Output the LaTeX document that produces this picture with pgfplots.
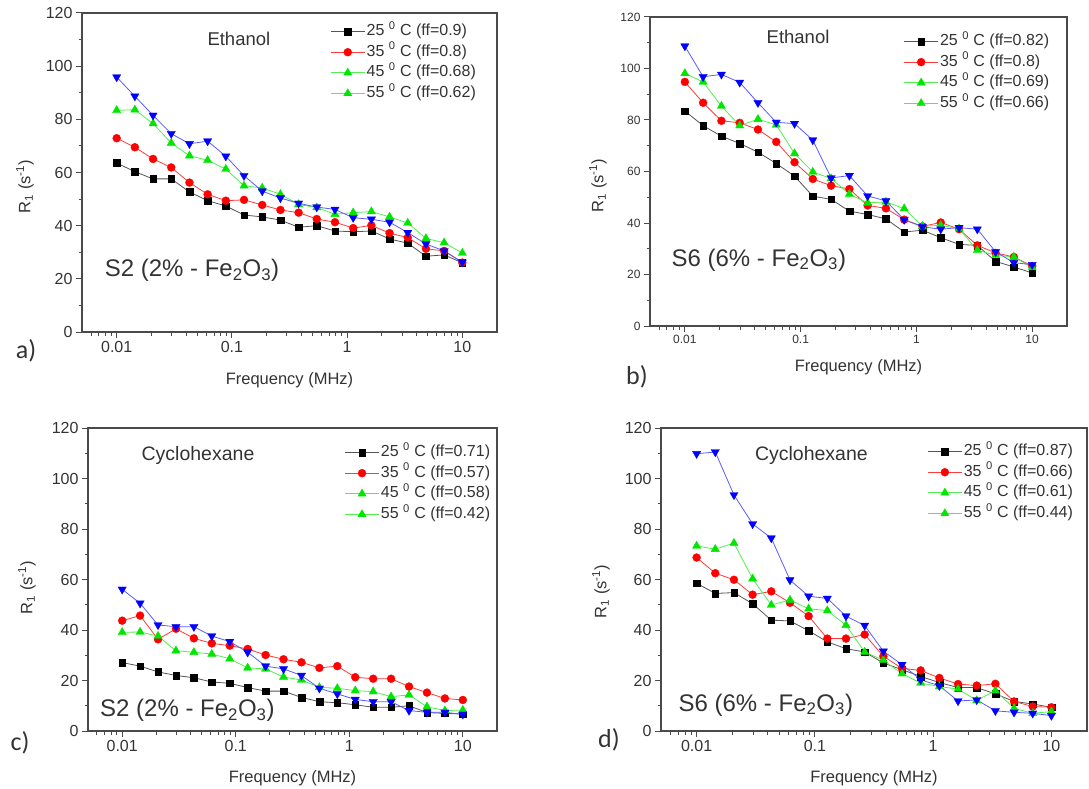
\documentclass[border=0pt]{standalone}
\usepackage{fontspec}
\setmainfont{Liberation Sans}
\newfontfamily\carlito{Carlito}
\usepackage{pgfplots}
\usepackage{pgfplotstable}
\pgfplotsset{compat=1.18}

\definecolor{axgray}{HTML}{4A4A4A}
\definecolor{txtgray}{HTML}{333333}
\definecolor{ln25}{HTML}{555555}
\definecolor{ln35}{HTML}{FF3A3A}
\definecolor{ln45}{HTML}{50F050}
\definecolor{ln55}{HTML}{5A5AFF}
\definecolor{mk35}{HTML}{FF0000}
\definecolor{mk45}{HTML}{00E600}
\definecolor{mk55}{HTML}{0000FF}

% frequency (MHz), R1 at 25, 35, 45, 55 C
\pgfplotstableread{
f t25 t35 t45 t55
0.01    63.6 72.9 83.4 95.9
0.01438 60.3 69.5 83.6 88.7
0.02069 57.6 65.1 78.4 81.5
0.02976 57.6 61.9 71.1 74.6
0.04281 52.7 56.2 66.3 70.8
0.06158 49.4 51.8 64.6 71.8
0.08859 47.4 49.4 61.3 66.1
0.1274  44.0 49.7 55.0 58.8
0.1833  43.3 47.8 54.2 53.0
0.2637  42.1 45.9 51.8 50.4
0.3793  39.4 44.9 48.0 48.4
0.5456  40.0 42.5 46.8 47.0
0.7848  38.0 41.3 44.3 46.1
1.129   37.7 39.1 44.9 43.0
1.624   38.0 40.1 45.3 42.4
2.336   35.0 37.2 43.3 41.3
3.360   33.4 35.5 41.0 37.4
4.833   28.5 31.3 35.2 33.1
6.952   29.0 30.5 33.6 30.5
10      26.0 26.1 29.7 26.3
}\tabA

\pgfplotstableread{
f t25 t35 t45 t55
0.01    83.5 94.8 98.1 108.7
0.01438 77.8 86.7 94.8 96.8
0.02069 73.7 79.7 85.4 97.7
0.02976 70.9 78.9 77.8 94.6
0.04281 67.5 76.3 80.3 86.7
0.06158 63.1 71.5 78.1 79.1
0.08859 58.2 63.6 67.0 78.6
0.1274  50.4 57.1 59.8 72.2
0.1833  49.2 54.5 57.3 57.5
0.2637  44.6 53.2 51.2 58.4
0.3793  43.3 46.8 47.8 50.5
0.5456  41.6 45.7 48.2 48.6
0.7848  36.5 41.3 45.6 41.3
1.129   37.2 38.7 38.7 38.5
1.624   34.3 40.2 39.1 37.6
2.336   31.7 37.6 37.8 38.2
3.360   31.3 31.3 29.4 37.6
4.833   25.1 28.4 27.5 28.8
6.952   22.9 26.8 26.8 24.6
10      20.6 23.3 22.7 23.8
}\tabB

\pgfplotstableread{
f t25 t35 t45 t55
0.01    27.1 43.7 39.1 56.1
0.01438 25.7 45.7 39.2 50.6
0.02069 23.4 36.3 37.6 42.0
0.02976 22.0 40.5 31.8 41.3
0.04281 21.1 36.7 31.2 41.3
0.06158 19.4 34.7 30.5 37.6
0.08859 18.9 33.8 28.6 35.4
0.1274  17.2 32.5 25.0 31.2
0.1833  15.8 30.1 24.6 25.7
0.2637  15.8 28.4 21.4 24.6
0.3793  13.3 27.2 20.2 22.0
0.5456  11.6 25.0 17.3 16.9
0.7848  11.2 25.7 16.9 14.7
1.129   10.4 21.3 16.0 12.5
1.624    9.4 20.7 15.6 11.6
2.336    9.4 20.7 13.6 11.6
3.360   10.0 17.6 14.3  8.1
4.833    7.3 15.2  9.6  7.4
6.952    7.0 12.9  8.1  7.4
10       6.7 12.3  8.3  6.6
}\tabC

\pgfplotstableread{
f t25 t35 t45 t55
0.01    58.5 68.7 73.3 109.8
0.01438 54.5 62.5 72.0 110.5
0.02069 54.8 59.9 74.4 93.5
0.02976 50.4 54.0 60.3 82.0
0.04281 43.9 55.3 49.9 76.4
0.06158 43.6 50.8 51.9 59.8
0.08859 39.7 45.5 48.4 53.4
0.1274  35.3 36.6 47.7 52.5
0.1833  32.6 36.6 41.9 45.5
0.2637  31.3 38.2 31.3 41.8
0.3793  26.9 29.6 28.0 31.6
0.5456  24.3 24.8 22.7 26.3
0.7848  21.6 24.0 19.0 20.3
1.129   19.2 21.0 17.6 17.9
1.624   17.2 18.6 16.6 11.9
2.336   17.2 18.0 12.1 12.3
3.360   14.7 18.7 16.0  8.0
4.833   11.7 11.7  9.0  7.4
6.952   10.7  9.7  7.0  7.0
10       9.4  9.4  7.7  6.1
}\tabD

\pgfplotsset{
  s25/.style={color=ln25, line width=0.8pt, mark=square*, mark size=3.3pt,
    mark options={solid, draw=black, fill=black, line width=0.3pt}},
  s35/.style={color=ln35, line width=0.8pt, mark=*, mark size=4pt,
    mark options={solid, draw=mk35, fill=mk35, line width=0.3pt}},
  s45/.style={color=ln45, line width=0.8pt, mark=triangle*, mark size=4.8pt,
    mark options={solid, draw=mk45, fill=mk45, line width=0.3pt}},
  s55/.style={color=ln55, line width=0.8pt, mark=triangle*, mark size=4.8pt,
    mark options={solid, draw=mk55, fill=mk55, line width=0.3pt, rotate=180}},
}

% settings shared by the four panels
\pgfplotsset{
  scale only axis,
  xmin=0.005, xmax=20, ymin=0, ymax=120,
  xtick={0.01,0.1,1,10}, xticklabels={0.01,0.1,1,10},
  minor xtick={0.006,0.007,0.008,0.009,0.02,0.03,0.04,0.05,0.06,0.07,0.08,0.09,
    0.2,0.3,0.4,0.5,0.6,0.7,0.8,0.9,2,3,4,5,6,7,8,9},
  ytick={0,20,...,120}, minor ytick={10,30,...,110},
  tick align=outside, tick pos=left,
  axis line style={draw=axgray, line width=1.1pt},
  major tick length=6pt, minor tick length=3.5pt,
  every tick/.style={axgray, line width=1pt},
  /pgf/number format/assume math mode=true,
  ticklabel style={text=txtgray, font=\fontsize{16}{16}\selectfont},
  xlabel={Frequency (MHz)},
  ylabel={R\textsubscript{1} (s\textsuperscript{-1})},
  label style={text=txtgray, font=\fontsize{16.5}{18}\selectfont},
  legend style={draw=none, fill=none, inner sep=0pt, row sep=1.6pt, column sep=0pt,
    anchor=north west,
    nodes={inner sep=1.5pt, text height=12pt, text depth=4pt, text=txtgray,
      font=\fontsize{16}{16}\selectfont}},
  legend cell align=left,
  legend image code/.code={
    \draw[mark repeat=2, mark phase=2, #1] plot coordinates {(0pt,0pt) (17pt,0pt) (34pt,0pt)};},
}

\tikzset{
  tagfont/.style={font=\fontsize{18.5}{20}\selectfont, text=txtgray},
  cycfont/.style={font=\fontsize{19.5}{21}\selectfont, text=txtgray},
  bigfont/.style={font=\fontsize{24}{26}\selectfont, text=txtgray},
  letter/.style={font=\carlito\fontsize{26}{26}\selectfont, text=txtgray},
}

\begin{document}
\begin{tikzpicture}[x=1pt, y=1pt]
\path[use as bounding box] (0,0) rectangle (1089,-789);

% ---------- a) ----------
\begin{semilogxaxis}[at={(82pt,-13pt)}, anchor=north west, width=415pt, height=319pt,
  xlabel style={at={([yshift=-48pt]rel axis cs:0.5,0)}, anchor=center},
  ylabel style={at={([xshift=-57pt, yshift=-14pt]rel axis cs:0,0.5)}, anchor=center},
  legend style={at={(rel axis cs:0.598,0.972)}}]
\addplot[s25, forget plot] table[x=f, y=t25] {\tabA};
\addplot[s35, forget plot] table[x=f, y=t35] {\tabA};
\addplot[s45, forget plot] table[x=f, y=t45] {\tabA};
\addplot[s55, forget plot] table[x=f, y=t55] {\tabA};
\addlegendimage{s25}\addlegendentry{25 \textsuperscript{0} C (ff=0.9)}
\addlegendimage{s35}\addlegendentry{35 \textsuperscript{0} C (ff=0.8)}
\addlegendimage{s45}\addlegendentry{45 \textsuperscript{0} C (ff=0.68)}
\addlegendimage{s45}\addlegendentry{55 \textsuperscript{0} C (ff=0.62)}
\node[tagfont] at (rel axis cs:0.378,0.918) {Ethanol};
\node[bigfont] at (rel axis cs:0.265,0.194) {S2 (2\% - Fe\textsubscript{2}O\textsubscript{3})};
\end{semilogxaxis}

% ---------- b) ----------
\begin{semilogxaxis}[at={(650pt,-17pt)}, anchor=north west, width=417pt, height=309pt,
  ticklabel style={font=\fontsize{12}{12}\selectfont},
  xlabel style={at={([yshift=-41pt]rel axis cs:0.5,0)}, anchor=center},
  ylabel style={at={([xshift=-52pt, yshift=-14pt]rel axis cs:0,0.5)}, anchor=center},
  legend style={at={(rel axis cs:0.608,0.952)}}]
\addplot[s25, forget plot] table[x=f, y=t25] {\tabB};
\addplot[s35, forget plot] table[x=f, y=t35] {\tabB};
\addplot[s45, forget plot] table[x=f, y=t45] {\tabB};
\addplot[s55, forget plot] table[x=f, y=t55] {\tabB};
\addlegendimage{s25}\addlegendentry{25 \textsuperscript{0} C (ff=0.82)}
\addlegendimage{s35}\addlegendentry{35 \textsuperscript{0} C (ff=0.8)}
\addlegendimage{s45}\addlegendentry{45 \textsuperscript{0} C (ff=0.69)}
\addlegendimage{s45}\addlegendentry{55 \textsuperscript{0} C (ff=0.66)}
\node[tagfont] at (rel axis cs:0.355,0.935) {Ethanol};
\node[bigfont] at (rel axis cs:0.261,0.214) {S6 (6\% - Fe\textsubscript{2}O\textsubscript{3})};
\end{semilogxaxis}

% ---------- c) ----------
\begin{semilogxaxis}[at={(88pt,-428pt)}, anchor=north west, width=409pt, height=303pt,
  xlabel style={at={([yshift=-47pt]rel axis cs:0.5,0)}, anchor=center},
  ylabel style={at={([xshift=-61pt, yshift=-8pt]rel axis cs:0,0.5)}, anchor=center},
  legend style={at={(rel axis cs:0.627,0.951)}}]
\addplot[s25, forget plot] table[x=f, y=t25] {\tabC};
\addplot[s35, forget plot] table[x=f, y=t35] {\tabC};
\addplot[s45, forget plot] table[x=f, y=t45] {\tabC};
\addplot[s55, forget plot] table[x=f, y=t55] {\tabC};
\addlegendimage{s25}\addlegendentry{25 \textsuperscript{0} C (ff=0.71)}
\addlegendimage{s35}\addlegendentry{35 \textsuperscript{0} C (ff=0.57)}
\addlegendimage{s45}\addlegendentry{45 \textsuperscript{0} C (ff=0.58)}
\addlegendimage{s45}\addlegendentry{55 \textsuperscript{0} C (ff=0.42)}
\node[cycfont] at (rel axis cs:0.269,0.911) {Cyclohexane};
\node[bigfont] at (rel axis cs:0.243,0.069) {S2 (2\% - Fe\textsubscript{2}O\textsubscript{3})};
\end{semilogxaxis}

% ---------- d) ----------
\begin{semilogxaxis}[at={(661pt,-428pt)}, anchor=north west, width=426pt, height=303pt,
  xlabel style={at={([yshift=-47pt]rel axis cs:0.5,0)}, anchor=center},
  ylabel style={at={([xshift=-60pt, yshift=-12pt]rel axis cs:0,0.5)}, anchor=center},
  legend style={at={(rel axis cs:0.625,0.954)}}]
\addplot[s25, forget plot] table[x=f, y=t25] {\tabD};
\addplot[s35, forget plot] table[x=f, y=t35] {\tabD};
\addplot[s45, forget plot] table[x=f, y=t45] {\tabD};
\addplot[s55, forget plot] table[x=f, y=t55] {\tabD};
\addlegendimage{s25}\addlegendentry{25 \textsuperscript{0} C (ff=0.87)}
\addlegendimage{s35}\addlegendentry{35 \textsuperscript{0} C (ff=0.66)}
\addlegendimage{s45}\addlegendentry{45 \textsuperscript{0} C (ff=0.61)}
\addlegendimage{s45}\addlegendentry{55 \textsuperscript{0} C (ff=0.44)}
\node[cycfont] at (rel axis cs:0.353,0.911) {Cyclohexane};
\node[bigfont] at (rel axis cs:0.246,0.086) {S6 (6\% - Fe\textsubscript{2}O\textsubscript{3})};
\end{semilogxaxis}

% panel letters
\node[letter] at (26,-351) {a)};
\node[letter] at (637,-377) {b)};
\node[letter] at (20,-743) {c)};
\node[letter] at (609,-740) {d)};
\end{tikzpicture}
\end{document}
